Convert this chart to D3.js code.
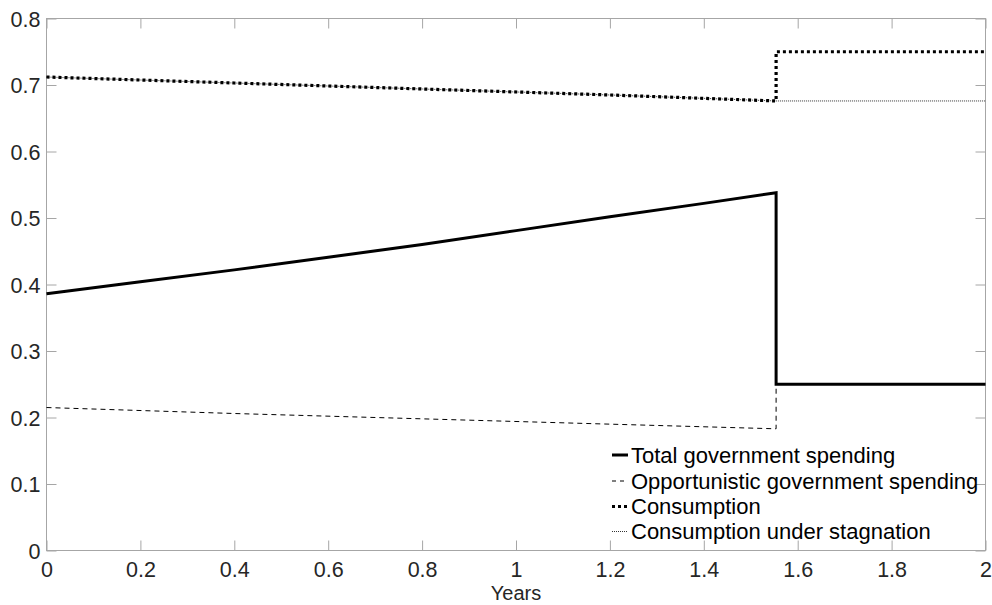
<!DOCTYPE html>
<html>
<head>
<meta charset="utf-8">
<script src="https://cdn.jsdelivr.net/npm/d3@7"></script>
<style>
  html, body { margin: 0; padding: 0; background: #fff; }
  svg { display: block; font-family: "Liberation Sans", Arial, Helvetica, sans-serif; }
</style>
</head>
<body>
<svg id="chart" width="992" height="605"></svg>
<script>
// ---- data ----
const xTicks = [0, 0.2, 0.4, 0.6, 0.8, 1, 1.2, 1.4, 1.6, 1.8, 2];
const yTicks = [0, 0.1, 0.2, 0.3, 0.4, 0.5, 0.6, 0.7, 0.8];

const totalYears = [0, 0.2, 0.4, 0.6, 0.8, 1.0, 1.2, 1.4, 1.554, 1.554, 2];
const totalSpending = [0.386, 0.404, 0.422, 0.441, 0.460, 0.481, 0.502, 0.522, 0.538, 0.25, 0.25];

const oppYears = [0, 0.4, 0.8, 1.2, 1.554, 1.554];
const oppSpending = [0.215, 0.206, 0.198, 0.190, 0.183, 0.25];

const consYears = [0, 0.4, 0.8, 1.2, 1.554, 1.554, 2];
const consumption = [0.712, 0.703, 0.694, 0.685, 0.676, 0.75, 0.75];

const stagYears = [0, 0.4, 0.8, 1.2, 1.554, 2];
const consumptionStagnation = [0.712, 0.703, 0.694, 0.685, 0.676, 0.676];

const legendLabels = ["Total government spending", "Opportunistic government spending", "Consumption", "Consumption under stagnation"];
const xLabel = "Years";

// ---- layout ----
const svg = d3.select("#chart");
const L = 46.5, R = 985.5, T = 18.5, B = 550.5;
const x = d3.scaleLinear().domain([0, 2]).range([L, R]);
const y = d3.scaleLinear().domain([0, 0.8]).range([B, T]);
const axisColor = "#a6a6a6";
const textColor = "#262626";

// box
svg.append("rect").attr("x", L).attr("y", T).attr("width", R - L).attr("height", B - T)
  .attr("fill", "none").attr("stroke", axisColor).attr("stroke-width", 1);

// axes with inward ticks
const fmt = d => d3.format("")(+d.toFixed(1));
const gx = svg.append("g").attr("transform", `translate(0,${B})`)
  .call(d3.axisBottom(x).tickValues(xTicks).tickSize(-10).tickPadding(11).tickFormat(fmt));
const gxt = svg.append("g").attr("transform", `translate(0,${T})`)
  .call(d3.axisTop(x).tickValues(xTicks).tickSize(-10).tickFormat(""));
const gy = svg.append("g").attr("transform", `translate(${L},0)`)
  .call(d3.axisLeft(y).tickValues(yTicks).tickSize(-10).tickPadding(6).tickFormat(fmt));
const gyr = svg.append("g").attr("transform", `translate(${R},0)`)
  .call(d3.axisRight(y).tickValues(yTicks).tickSize(-10).tickFormat(""));
[gx, gxt, gy, gyr].forEach(g => {
  g.select(".domain").remove();
  g.selectAll(".tick line").attr("stroke", axisColor);
  g.selectAll("text").attr("fill", textColor).style("font-size", "21.5px");
});
gy.selectAll("text").attr("dy", "0.35em");

svg.append("text").attr("x", x(1)).attr("y", 600).attr("text-anchor", "middle")
  .attr("fill", textColor).style("font-size", "20px").text(xLabel);

// ---- lines ----
const line = d3.line().x(d => x(d[0])).y(d => y(d[1]));
const zip = (a, b) => a.map((v, i) => [v, b[i]]);

const styles = [
  { w: 3, dash: null },
  { w: 1, dash: "5,4" },
  { w: 3.2, dash: "3,3" },
  { w: 0.8, dash: "1,1" }
];
const series = [
  zip(totalYears, totalSpending),
  zip(oppYears, oppSpending),
  zip(consYears, consumption),
  zip(stagYears, consumptionStagnation)
];

[3, 2, 1, 0].forEach(i => {
  const p = svg.append("path").attr("d", line(series[i])).attr("fill", "none")
    .attr("stroke", "#000").attr("stroke-width", styles[i].w)
    .attr("stroke-linejoin", "miter");
  if (styles[i].dash) p.attr("stroke-dasharray", styles[i].dash);
});

// ---- legend ----
const legY = [455, 481, 506.5, 531.5];
legendLabels.forEach((lab, i) => {
  const l = svg.append("line").attr("x1", 612).attr("x2", 628).attr("y1", legY[i]).attr("y2", legY[i])
    .attr("stroke", "#000").attr("stroke-width", styles[i].w);
  if (styles[i].dash) l.attr("stroke-dasharray", i === 1 ? "4,4" : styles[i].dash);
  svg.append("text").attr("x", 631).attr("y", legY[i]).attr("dy", "0.35em")
    .attr("fill", "#000").style("font-size", "22px").text(lab);
});
</script>
</body>
</html>
